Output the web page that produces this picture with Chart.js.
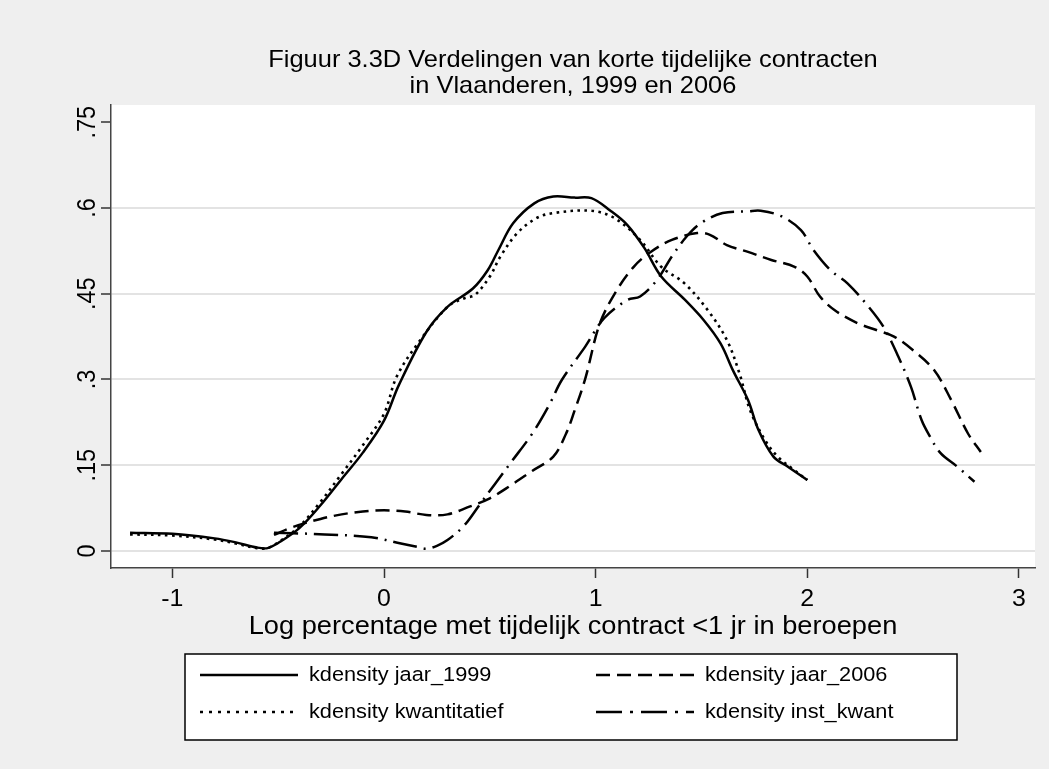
<!DOCTYPE html>
<html>
<head>
<meta charset="utf-8">
<script src="https://cdn.jsdelivr.net/npm/chart.js@4.4.1/dist/chart.umd.min.js"></script>
<style>
  html, body { margin: 0; padding: 0; background: #efefef; }
  #wrap { width: 1049px; height: 769px; }
</style>
</head>
<body>
<div id="wrap"><canvas id="kdens" width="1049" height="769"></canvas></div>
<script>
// values
var titleLines = ['Figuur 3.3D Verdelingen van korte tijdelijke contracten', 'in Vlaanderen, 1999 en 2006'];
var xTitle = 'Log percentage met tijdelijk contract <1 jr in beroepen';
var xTicks = [-1, 0, 1, 2, 3];
var yTicks = [0, 0.15, 0.3, 0.45, 0.6, 0.75];
var yTickLabels = ['0', '.15', '.3', '.45', '.6', '.75'];
var seriesNames = ['kdensity jaar_1999', 'kdensity jaar_2006', 'kdensity kwantitatief', 'kdensity inst_kwant'];

var x1999 = [-1.2, -1.0, -0.8, -0.7, -0.6, -0.55, -0.5, -0.4, -0.3, -0.2, -0.1, 0.0, 0.07, 0.2, 0.3, 0.42, 0.49, 0.54, 0.61, 0.71, 0.8, 0.9, 0.98, 1.07, 1.15, 1.23, 1.31, 1.42, 1.51, 1.59, 1.65, 1.72, 1.77, 1.84, 1.91, 2.0];
var y1999 = [0.032, 0.030, 0.022, 0.015, 0.006, 0.005, 0.014, 0.040, 0.080, 0.126, 0.172, 0.228, 0.290, 0.383, 0.427, 0.459, 0.491, 0.526, 0.573, 0.608, 0.620, 0.618, 0.617, 0.595, 0.570, 0.530, 0.480, 0.440, 0.404, 0.363, 0.315, 0.264, 0.211, 0.165, 0.147, 0.124];

var x2006 = [-0.52, -0.43, -0.3, -0.2, -0.1, 0.0, 0.1, 0.2, 0.3, 0.4, 0.5, 0.6, 0.7, 0.8, 0.86, 0.9, 0.95, 1.02, 1.1, 1.18, 1.26, 1.36, 1.48, 1.54, 1.62, 1.72, 1.83, 1.94, 2.0, 2.06, 2.13, 2.24, 2.33, 2.41, 2.5, 2.6, 2.68, 2.76, 2.82];
var y2006 = [0.028, 0.042, 0.056, 0.064, 0.069, 0.071, 0.069, 0.063, 0.064, 0.077, 0.092, 0.115, 0.140, 0.165, 0.205, 0.245, 0.300, 0.398, 0.456, 0.497, 0.523, 0.544, 0.556, 0.553, 0.535, 0.523, 0.509, 0.497, 0.480, 0.445, 0.421, 0.398, 0.386, 0.375, 0.351, 0.316, 0.264, 0.205, 0.173];

var xKwant = [-1.2, -1.0, -0.8, -0.7, -0.6, -0.55, -0.5, -0.4, -0.3, -0.2, -0.1, 0.0, 0.06, 0.16, 0.3, 0.38, 0.43, 0.5, 0.55, 0.63, 0.72, 0.8, 0.98, 1.09, 1.21, 1.31, 1.42, 1.53, 1.62, 1.68, 1.73, 1.8, 1.86, 1.94, 2.0];
var yKwant = [0.029, 0.027, 0.020, 0.013, 0.005, 0.005, 0.015, 0.043, 0.086, 0.135, 0.185, 0.240, 0.305, 0.363, 0.427, 0.442, 0.448, 0.480, 0.515, 0.556, 0.582, 0.591, 0.595, 0.582, 0.544, 0.497, 0.468, 0.421, 0.369, 0.310, 0.246, 0.194, 0.165, 0.141, 0.124];

var xInst = [-0.52, -0.43, -0.28, -0.06, 0.08, 0.16, 0.2, 0.25, 0.3, 0.38, 0.45, 0.52, 0.6, 0.7, 0.78, 0.84, 0.95, 1.04, 1.15, 1.21, 1.29, 1.36, 1.43, 1.5, 1.6, 1.72, 1.78, 1.88, 1.97, 2.03, 2.11, 2.19, 2.29, 2.36, 2.43, 2.49, 2.54, 2.58, 2.63, 2.71, 2.79];
var yInst = [0.032, 0.031, 0.029, 0.024, 0.013, 0.007, 0.004, 0.009, 0.019, 0.045, 0.080, 0.115, 0.155, 0.205, 0.255, 0.299, 0.357, 0.407, 0.439, 0.445, 0.474, 0.515, 0.550, 0.574, 0.591, 0.594, 0.595, 0.585, 0.561, 0.526, 0.491, 0.468, 0.427, 0.392, 0.340, 0.287, 0.229, 0.200, 0.171, 0.147, 0.121];

function pts(xs, ys) {
  return xs.map(function (x, i) { return { x: x, y: ys[i] }; });
}

var canvas = document.getElementById('kdens');
var ctx = canvas.getContext('2d');

// the Stata export is a bit stretched sideways, so widen text draws around their anchor
var SX = 1.06;
var rawFill = ctx.fillText;
ctx.fillText = function (text, x, y, maxWidth) {
  var m = this.getTransform();
  var px = m.a * x + m.c * y + m.e;
  this.save();
  this.setTransform(SX * m.a, m.b, SX * m.c, m.d, SX * m.e + (1 - SX) * px, m.f);
  if (maxWidth === undefined) rawFill.call(this, text, x, y);
  else rawFill.call(this, text, x, y, maxWidth);
  this.restore();
};

Chart.defaults.font.family = '"Liberation Sans", Arial, Helvetica, sans-serif';
Chart.defaults.color = '#000';

var backdrop = {
  id: 'backdrop',
  beforeDraw: function (chart) {
    var c = chart.ctx, a = chart.chartArea;
    c.save();
    c.fillStyle = '#efefef';
    c.fillRect(0, 0, chart.width, chart.height);
    c.fillStyle = '#ffffff';
    c.fillRect(a.left, a.top, a.right - a.left, a.bottom - a.top);
    c.restore();
  }
};

// legend in a white box, two columns like the original
var boxLegend = {
  id: 'boxLegend',
  afterDraw: function (chart) {
    var c = chart.ctx;
    var L = 185, T = 654, W = 772, H = 86;
    c.save();
    c.fillStyle = '#fff';
    c.fillRect(L, T, W, H);
    c.strokeStyle = '#000';
    c.lineWidth = 1.5;
    c.strokeRect(L, T, W, H);
    var slots = [[200, 675], [596, 675], [200, 712], [596, 712]];
    chart.data.datasets.forEach(function (ds, i) {
      var sx = slots[i][0], sy = slots[i][1];
      c.beginPath();
      c.setLineDash(ds.legendDash || []);
      c.lineWidth = ds.borderWidth;
      c.strokeStyle = ds.borderColor;
      c.moveTo(sx, sy);
      c.lineTo(sx + 98, sy);
      c.stroke();
      c.setLineDash([]);
      c.fillStyle = '#000';
      c.font = '20.5px "Liberation Sans", Arial, sans-serif';
      c.textBaseline = 'middle';
      c.textAlign = 'left';
      c.fillText(ds.label, sx + 109, sy);
    });
    c.restore();
  }
};

var chart = new Chart(ctx, {
  type: 'line',
  data: {
    datasets: [{
      label: seriesNames[0],
      data: pts(x1999, y1999),
      borderColor: '#000',
      borderWidth: 2.5,
      legendDash: []
    }, {
      label: seriesNames[1],
      data: pts(x2006, y2006),
      borderColor: '#000',
      borderWidth: 2.5,
      borderDash: [14, 7],
      legendDash: [14, 7]
    }, {
      label: seriesNames[2],
      data: pts(xKwant, yKwant),
      borderColor: '#000',
      borderWidth: 2.6,
      borderDash: [2.6, 4.4],
      legendDash: [3, 6]
    }, {
      label: seriesNames[3],
      data: pts(xInst, yInst),
      borderColor: '#000',
      borderWidth: 2.5,
      borderDash: [24, 7, 2, 7],
      legendDash: [26, 8, 3, 8]
    }]
  },
  options: {
    responsive: false,
    animation: false,
    devicePixelRatio: 1,
    elements: {
      point: { radius: 0 },
      line: { tension: 0.35, fill: false }
    },
    layout: { padding: { left: 0, right: 14, top: 0, bottom: 121 } },
    plugins: {
      legend: { display: false },
      tooltip: { enabled: false },
      title: {
        display: true,
        text: titleLines,
        fullSize: false,
        color: '#000',
        font: { size: 24, weight: 'normal', lineHeight: 26 / 24 },
        padding: { top: 47.5, bottom: 5.5 }
      }
    },
    scales: {
      x: {
        type: 'linear',
        min: -1.29,
        max: 3.076,
        afterBuildTicks: function (s) { s.ticks = xTicks.map(function (v) { return { value: v }; }); },
        afterFit: function (s) { s.height = 80; },
        ticks: {
          font: { size: 23.5 },
          color: '#000',
          padding: 7,
          maxRotation: 0,
          autoSkip: false,
          callback: function (v) { return String(v); }
        },
        grid: { drawOnChartArea: false, tickLength: 10, tickColor: '#333', tickWidth: 1.5 },
        border: { color: '#444', width: 1.5 },
        title: {
          display: true,
          text: xTitle,
          color: '#000',
          font: { size: 25.7 },
          padding: { top: 0, bottom: 5.5 }
        }
      },
      y: {
        type: 'linear',
        min: -0.0298,
        max: 0.78,
        afterBuildTicks: function (s) { s.ticks = yTicks.map(function (v) { return { value: v }; }); },
        afterFit: function (s) { s.width = 111; },
        ticks: {
          font: { size: 23.5 },
          color: '#000',
          minRotation: 90,
          maxRotation: 90,
          crossAlign: 'center',
          padding: -3,
          callback: function (v) { return yTickLabels[yTicks.indexOf(v)]; }
        },
        grid: {
          color: function (c) { return c.tick && c.tick.value === 0.75 ? 'rgba(0,0,0,0)' : '#e3e3e3'; },
          lineWidth: 2,
          tickLength: 10,
          tickColor: '#333',
          tickWidth: 1.5
        },
        border: { color: '#444', width: 1.5 }
      }
    }
  },
  plugins: [backdrop, boxLegend]
});
</script>
</body>
</html>
